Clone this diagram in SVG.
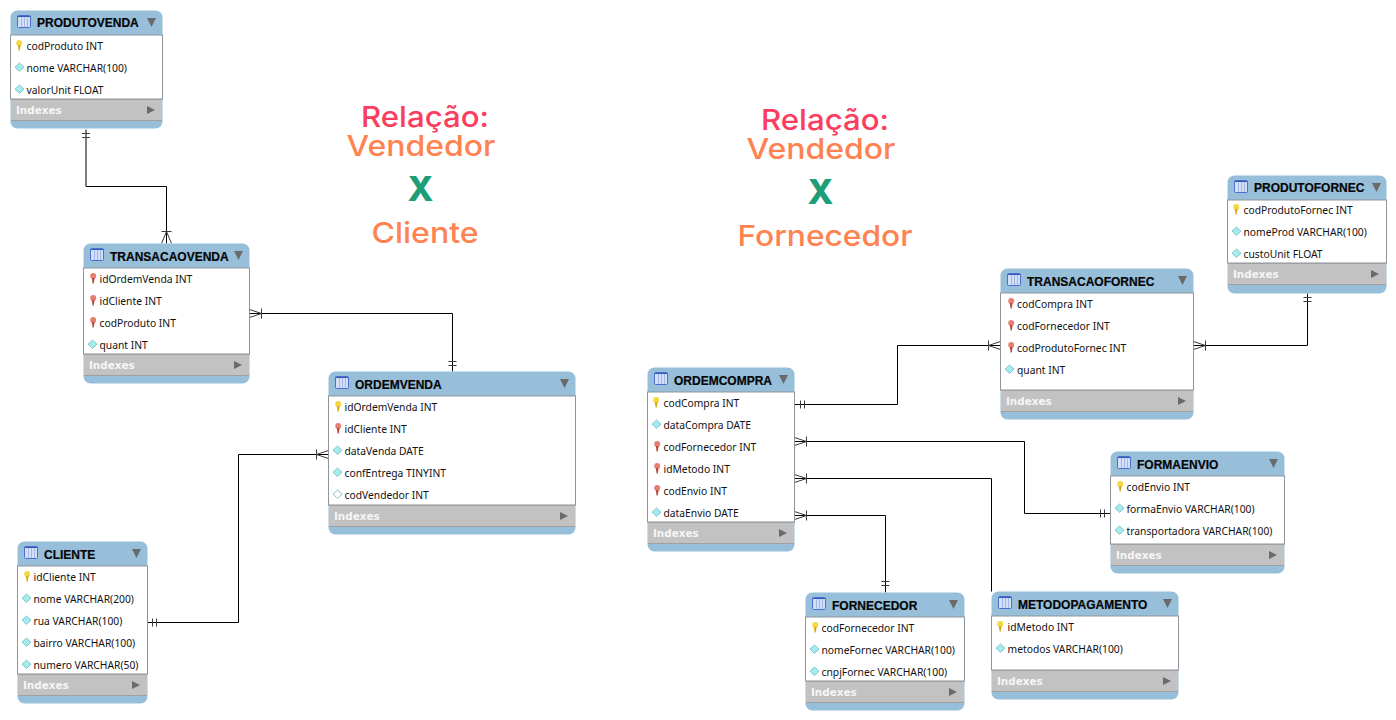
<svg xmlns="http://www.w3.org/2000/svg" width="1396" height="720" viewBox="0 0 1396 720">
<style>
text{font-family:"Noto Sans","DejaVu Sans",sans-serif}
.body{fill:#fff;stroke:#8d959c;stroke-width:1}
.head{fill:#98bfda}
.idx{fill:#c2c2c2}
.sep{stroke:#a0a0a0;stroke-width:1;fill:none}
.t{font-family:"Liberation Sans",Arial,sans-serif;font-weight:700;font-size:12px;fill:#050505;stroke:#050505;stroke-width:.2}
.r{font-size:10.3px;fill:#111}
.i{font-family:"DejaVu Sans",sans-serif;font-weight:700;font-size:10.4px;fill:#f6f6f6}
.c{fill:none;stroke:#000;stroke-width:1}
.m{fill:none;stroke:#3c3c3c;stroke-width:1}
.big{font-family:Inter,"Noto Sans",sans-serif;font-weight:500;font-size:29px;text-anchor:middle}
.x{font-family:Inter,"Noto Sans",sans-serif;font-weight:800;font-size:34px;text-anchor:middle;fill:#1e9e78}
.tri{fill:#6a6a6a}
</style>
<defs>
<g id="tbl"><rect x="0.500" y="0.500" width="13" height="12" rx="1" fill="#d3def7" stroke="#4a6fd0"/><path d="M0.500 1.500H13.500" stroke="#3558b8" fill="none"/><path d="M4.500 2V12M7.500 2V12M10.500 2V12" stroke="#a3b8e8" fill="none"/></g>
<g id="pk"><ellipse cx="3.200" cy="3" rx="3" ry="3" fill="#f3d83f"/><path d="M1.800 5H4.600L3.800 10.500H2.600Z" fill="#d9aa1c"/></g>
<g id="fk"><ellipse cx="3.200" cy="3" rx="3" ry="3" fill="#e57f70"/><path d="M1.800 5H4.600L3.800 10.500H2.600Z" fill="#b94a3d"/></g>
<path id="col" d="M4.500 0L9 4.200L4.500 8.400L0 4.200Z" fill="#a6ecee" stroke="#5cb4bc" stroke-width=".7"/>
<path id="coln" d="M4.500 0L9 4.200L4.500 8.400L0 4.200Z" fill="#fff" stroke="#6aaeb4" stroke-width=".8"/>
<path id="dn" class="tri" d="M1 0H10L5.500 9Z"/>
<path id="rt" class="tri" d="M1 1L9 5L1 9Z"/>
</defs>

<g id="connectors" transform="translate(.5 .5)">
<path class="c" d="M85.500 129V186H166V243"/>
<path class="m" d="M81.500 133H89.500M81.500 137H89.500M161 231H171M166 231L161 243M166 231L171 243"/>
<path class="c" d="M249 313H452V371"/>
<path class="m" d="M261 308V318M261 313L249 309M261 313L249 317M448 361H456M448 365H456"/>
<path class="c" d="M147 622H238V454H328"/>
<path class="m" d="M152 618V626M156 618V626M316 449V459M316 454L328 450M316 454L328 458"/>
<path class="c" d="M794 404H897V345H1000"/>
<path class="m" d="M800 400V408M804 400V408M988 340V350M988 345L1000 341M988 345L1000 349"/>
<path class="c" d="M794 441H1024V513H1110"/>
<path class="m" d="M806 436V446M806 441L794 437M806 441L794 445M1100 509V517M1104 509V517"/>
<path class="c" d="M794 478H991V591"/>
<path class="m" d="M806 473V483M806 478L794 474M806 478L794 482"/>
<path class="c" d="M794 515H885V592"/>
<path class="m" d="M806 510V520M806 515L794 511M806 515L794 519M881 581H889M881 585H889"/>
<path class="c" d="M1193 345H1307V293"/>
<path class="m" d="M1205 340V350M1205 345L1193 341M1205 345L1193 349M1303 297H1311M1303 301H1311"/>
</g>

<g id="PRODUTOVENDA">
<rect class="head" x="10.500" y="10.500" width="152" height="118" rx="7"/>
<rect class="body" x="10.500" y="35" width="152" height="64"/>
<rect class="idx" x="11" y="99" width="151" height="21"/><path class="sep" d="M11 99.500H162M11 120.500H162"/>
<use href="#tbl" x="17" y="15"/><text class="t" x="37" y="27">PRODUTOVENDA</text><use href="#dn" x="146" y="18"/>
<use href="#pk" x="16" y="40"/><text class="r" x="26.500" y="50">codProduto INT</text>
<use href="#col" x="15" y="63"/><text class="r" x="26.500" y="72">nome VARCHAR(100)</text>
<use href="#col" x="15" y="85"/><text class="r" x="26.500" y="94">valorUnit FLOAT</text>
<text class="i" x="16" y="114">Indexes</text><use href="#rt" x="146" y="105"/>
</g>

<g id="TRANSACAOVENDA">
<rect class="head" x="83.500" y="243.500" width="166" height="140" rx="7"/>
<rect class="body" x="83.500" y="268" width="166" height="86"/>
<rect class="idx" x="84" y="354" width="165" height="21"/><path class="sep" d="M84 354.500H249M84 375.500H249"/>
<use href="#tbl" x="90" y="248"/><text class="t" x="110" y="261">TRANSACAOVENDA</text><use href="#dn" x="233" y="251"/>
<use href="#fk" x="90" y="273"/><text class="r" x="99.500" y="283">idOrdemVenda INT</text>
<use href="#fk" x="90" y="295"/><text class="r" x="99.500" y="305">idCliente INT</text>
<use href="#fk" x="90" y="317"/><text class="r" x="99.500" y="327">codProduto INT</text>
<use href="#col" x="88" y="340"/><text class="r" x="99.500" y="349">quant INT</text>
<text class="i" x="89" y="369">Indexes</text><use href="#rt" x="233" y="360"/>
</g>

<g id="ORDEMVENDA">
<rect class="head" x="328.500" y="371.500" width="247" height="163" rx="7"/>
<rect class="body" x="328.500" y="396" width="247" height="109"/>
<rect class="idx" x="329" y="505" width="246" height="21"/><path class="sep" d="M329 505.500H575M329 526.500H575"/>
<use href="#tbl" x="335" y="376"/><text class="t" x="355" y="389">ORDEMVENDA</text><use href="#dn" x="559" y="379"/>
<use href="#pk" x="335" y="401"/><text class="r" x="344.500" y="411">idOrdemVenda INT</text>
<use href="#fk" x="335" y="423"/><text class="r" x="344.500" y="433">idCliente INT</text>
<use href="#col" x="333" y="446"/><text class="r" x="344.500" y="455">dataVenda DATE</text>
<use href="#col" x="333" y="468"/><text class="r" x="344.500" y="477">confEntrega TINYINT</text>
<use href="#coln" x="333" y="490"/><text class="r" x="344.500" y="499">codVendedor INT</text>
<text class="i" x="334" y="520">Indexes</text><use href="#rt" x="559" y="511"/>
</g>

<g id="CLIENTE">
<rect class="head" x="17.500" y="541.500" width="130" height="162" rx="7"/>
<rect class="body" x="17.500" y="566" width="130" height="108"/>
<rect class="idx" x="18" y="674" width="129" height="21"/><path class="sep" d="M18 674.500H147M18 695.500H147"/>
<use href="#tbl" x="24" y="546"/><text class="t" x="44" y="559">CLIENTE</text><use href="#dn" x="131" y="549"/>
<use href="#pk" x="24" y="571"/><text class="r" x="33.500" y="581">idCliente INT</text>
<use href="#col" x="22" y="594"/><text class="r" x="33.500" y="603">nome VARCHAR(200)</text>
<use href="#col" x="22" y="616"/><text class="r" x="33.500" y="625">rua VARCHAR(100)</text>
<use href="#col" x="22" y="638"/><text class="r" x="33.500" y="647">bairro VARCHAR(100)</text>
<use href="#col" x="22" y="660"/><text class="r" x="33.500" y="669">numero VARCHAR(50)</text>
<text class="i" x="23" y="689">Indexes</text><use href="#rt" x="131" y="680"/>
</g>

<g id="ORDEMCOMPRA">
<rect class="head" x="647.500" y="367.500" width="147" height="184" rx="7"/>
<rect class="body" x="647.500" y="392" width="147" height="130"/>
<rect class="idx" x="648" y="522" width="146" height="21"/><path class="sep" d="M648 522.500H794M648 543.500H794"/>
<use href="#tbl" x="654" y="372"/><text class="t" x="674" y="385">ORDEMCOMPRA</text><use href="#dn" x="778" y="375"/>
<use href="#pk" x="653" y="397"/><text class="r" x="663.500" y="407">codCompra INT</text>
<use href="#col" x="652" y="420"/><text class="r" x="663.500" y="429">dataCompra DATE</text>
<use href="#fk" x="654" y="441"/><text class="r" x="663.500" y="451">codFornecedor INT</text>
<use href="#fk" x="654" y="463"/><text class="r" x="663.500" y="473">idMetodo INT</text>
<use href="#fk" x="654" y="485"/><text class="r" x="663.500" y="495">codEnvio INT</text>
<use href="#col" x="652" y="508"/><text class="r" x="663.500" y="517">dataEnvio DATE</text>
<text class="i" x="653" y="537">Indexes</text><use href="#rt" x="778" y="528"/>
</g>

<g id="TRANSACAOFORNEC">
<rect class="head" x="1000.500" y="268.500" width="193" height="151" rx="7"/>
<rect class="body" x="1000.500" y="293" width="193" height="97"/>
<rect class="idx" x="1001" y="390" width="192" height="21"/><path class="sep" d="M1001 390.500H1193M1001 411.500H1193"/>
<use href="#tbl" x="1007" y="273"/><text class="t" x="1027" y="286">TRANSACAOFORNEC</text><use href="#dn" x="1177" y="276"/>
<use href="#fk" x="1008" y="298"/><text class="r" x="1017" y="308">codCompra INT</text>
<use href="#fk" x="1008" y="320"/><text class="r" x="1017" y="330">codFornecedor INT</text>
<use href="#fk" x="1008" y="342"/><text class="r" x="1017" y="352">codProdutoFornec INT</text>
<use href="#col" x="1005" y="365"/><text class="r" x="1017" y="374">quant INT</text>
<text class="i" x="1006" y="405">Indexes</text><use href="#rt" x="1177" y="396"/>
</g>

<g id="PRODUTOFORNEC">
<rect class="head" x="1227.500" y="175.500" width="159" height="118" rx="7"/>
<rect class="body" x="1227.500" y="200" width="159" height="63"/>
<rect class="idx" x="1228" y="263" width="158" height="21"/><path class="sep" d="M1228 263.500H1386M1228 284.500H1386"/>
<use href="#tbl" x="1234" y="180"/><text class="t" x="1254" y="192">PRODUTOFORNEC</text><use href="#dn" x="1371" y="183"/>
<use href="#pk" x="1233" y="204"/><text class="r" x="1243.500" y="214">codProdutoFornec INT</text>
<use href="#col" x="1232" y="227"/><text class="r" x="1243.500" y="236">nomeProd VARCHAR(100)</text>
<use href="#col" x="1232" y="249"/><text class="r" x="1243.500" y="258">custoUnit FLOAT</text>
<text class="i" x="1233" y="278">Indexes</text><use href="#rt" x="1370" y="269"/>
</g>

<g id="FORMAENVIO">
<rect class="head" x="1110.500" y="451.500" width="174" height="122" rx="7"/>
<rect class="body" x="1110.500" y="476" width="174" height="68"/>
<rect class="idx" x="1111" y="544" width="173" height="21"/><path class="sep" d="M1111 544.500H1284M1111 565.500H1284"/>
<use href="#tbl" x="1117" y="456"/><text class="t" x="1137" y="469">FORMAENVIO</text><use href="#dn" x="1268" y="459"/>
<use href="#pk" x="1117" y="481"/><text class="r" x="1126.500" y="491">codEnvio INT</text>
<use href="#col" x="1115" y="504"/><text class="r" x="1126.500" y="513">formaEnvio VARCHAR(100)</text>
<use href="#col" x="1115" y="526"/><text class="r" x="1126.500" y="535">transportadora VARCHAR(100)</text>
<text class="i" x="1116" y="559">Indexes</text><use href="#rt" x="1268" y="550"/>
</g>

<g id="FORNECEDOR">
<rect class="head" x="805.500" y="592.500" width="159" height="118" rx="7"/>
<rect class="body" x="805.500" y="617" width="159" height="64"/>
<rect class="idx" x="806" y="681" width="158" height="21"/><path class="sep" d="M806 681.500H964M806 702.500H964"/>
<use href="#tbl" x="812" y="597"/><text class="t" x="832" y="610">FORNECEDOR</text><use href="#dn" x="948" y="600"/>
<use href="#pk" x="812" y="622"/><text class="r" x="821.500" y="632">codFornecedor INT</text>
<use href="#col" x="810" y="645"/><text class="r" x="821.500" y="654">nomeFornec VARCHAR(100)</text>
<use href="#col" x="810" y="667"/><text class="r" x="821.500" y="676">cnpjFornec VARCHAR(100)</text>
<text class="i" x="811" y="696">Indexes</text><use href="#rt" x="948" y="687"/>
</g>

<g id="METODOPAGAMENTO">
<rect class="head" x="991.500" y="591.500" width="187" height="108" rx="7"/>
<rect class="body" x="991.500" y="616" width="187" height="54"/>
<rect class="idx" x="992" y="670" width="186" height="21"/><path class="sep" d="M992 670.500H1178M992 691.500H1178"/>
<use href="#tbl" x="998" y="596"/><text class="t" x="1018" y="609">METODOPAGAMENTO</text><use href="#dn" x="1162" y="599"/>
<use href="#pk" x="997" y="621"/><text class="r" x="1007.500" y="631">idMetodo INT</text>
<use href="#col" x="996" y="644"/><text class="r" x="1007.500" y="653">metodos VARCHAR(100)</text>
<text class="i" x="997" y="685">Indexes</text><use href="#rt" x="1162" y="676"/>
</g>

<g id="title-left">
<text class="big" x="425" y="127" fill="#fb3d5f" textLength="128" lengthAdjust="spacingAndGlyphs">Relação:</text>
<text class="big" x="421" y="156" fill="#ff8350" textLength="149" lengthAdjust="spacingAndGlyphs">Vendedor</text>
<text class="x" x="420.500" y="201">X</text>
<text class="big" x="425" y="243" fill="#ff8350" textLength="107" lengthAdjust="spacingAndGlyphs">Cliente</text>
</g>
<g id="title-right">
<text class="big" x="825" y="130" fill="#fb3d5f" textLength="128" lengthAdjust="spacingAndGlyphs">Relação:</text>
<text class="big" x="821" y="159" fill="#ff8350" textLength="149" lengthAdjust="spacingAndGlyphs">Vendedor</text>
<text class="x" x="820.500" y="204">X</text>
<text class="big" x="825" y="246" fill="#ff8350" textLength="175" lengthAdjust="spacingAndGlyphs">Fornecedor</text>
</g>
</svg>
